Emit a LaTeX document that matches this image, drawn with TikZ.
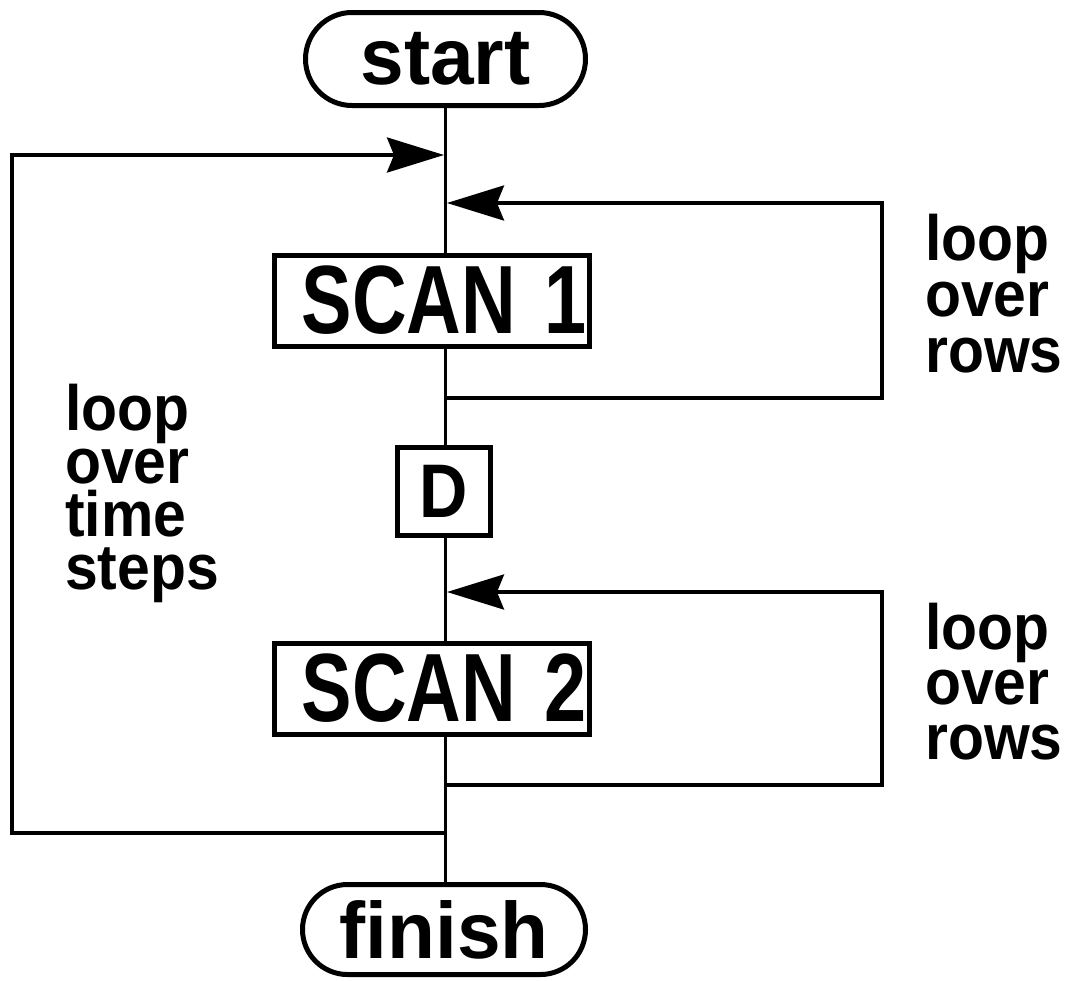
\documentclass[tikz,border=0pt]{standalone}
\usepackage{fontspec}
\setmainfont{Liberation Sans}
\newfontfamily\labfont[FakeStretch=0.92]{Liberation Sans}
\newfontfamily\dfont[FakeStretch=0.88]{Liberation Sans}
\newfontfamily\scanfont[FakeStretch=0.78]{Liberation Sans}
\newfontfamily\termfont[FakeStretch=0.98]{Liberation Sans}
\usetikzlibrary{arrows.meta,shapes.misc}
\begin{document}
\begin{tikzpicture}[x=1pt,y=-1pt,
  box/.style={draw,line width=5pt,inner sep=0pt},
  term/.style={box,rounded rectangle,font=\termfont\bfseries\fontsize{80}{80}\selectfont},
  scanbox/.style={box,rectangle,minimum width=315pt,minimum height=91pt,font=\scanfont\bfseries\fontsize{97}{97}\selectfont},
  flow/.style={line width=3.2pt},
  loopline/.style={line width=3.4pt},
  tip/.style={-{Stealth[length=57pt,width=35pt,inset=7pt]}},
  lab/.style={align=left,inner sep=0pt,anchor=north west}]
\useasboundingbox (0,0) rectangle (1070,980);

\node[term,minimum width=280pt,minimum height=93pt] (start) at (445.5,59) {start};
\node[scanbox] (scan1) at (432,300.5) {\hspace*{24pt}SCAN\hspace{28pt}1};
\node[box,rectangle,minimum width=93pt,minimum height=88pt,font=\dfont\bfseries\fontsize{76}{76}\selectfont] (D) at (444,491.5) {D};
\node[scanbox] (scan2) at (432,688.5) {\hspace*{24pt}SCAN\hspace{28pt}2};
\node[term,minimum width=283pt,minimum height=90pt] (finish) at (444,929.5) {finish};

\draw[flow] (start.south) -- (start.south |- scan1.north);
\draw[flow] (start.south |- scan1.south) -- (start.south |- D.north);
\draw[flow] (start.south |- D.south) -- (start.south |- scan2.north);
\draw[flow] (start.south |- scan2.south) -- (start.south |- finish.north);

\coordinate (tsout) at (445.5,833);
\coordinate (tscorner) at (12,833);
\coordinate (tsin) at (444,155);
\draw[loopline,tip] (tsout) -- (tscorner) |- (tsin);

\coordinate (ra) at (445.5,398);
\coordinate (racorner) at (882,398);
\coordinate (rain) at (447,203);
\draw[loopline,tip] (ra) -- (racorner) |- (rain);

\coordinate (rb) at (445.5,785);
\coordinate (rbcorner) at (882,785);
\coordinate (rbin) at (447,592);
\draw[loopline,tip] (rb) -- (rbcorner) |- (rbin);

\node[lab,font=\labfont\bfseries\fontsize{64}{56}\selectfont] (rows1) at (925,214) {loop\\over\\rows};
\node[lab,font=\labfont\bfseries\fontsize{64}{55}\selectfont] (rows2) at (925,603) {loop\\over\\rows};
\node[lab,font=\labfont\bfseries\fontsize{64}{53}\selectfont] (steps) at (65,384) {loop\\over\\time\\steps};
\end{tikzpicture}
\end{document}
